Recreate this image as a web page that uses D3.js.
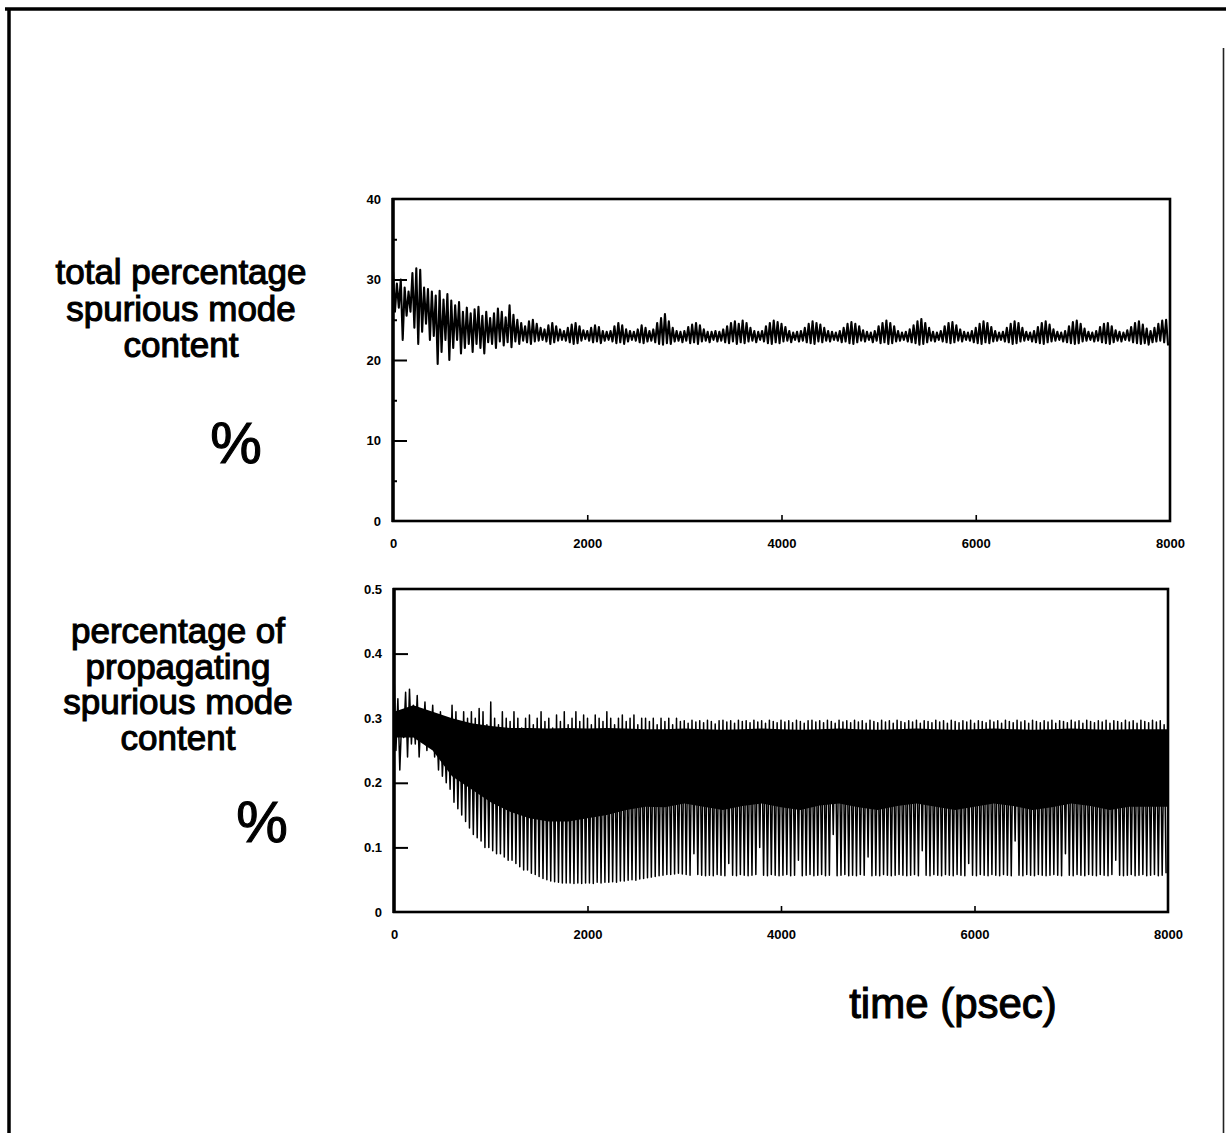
<!DOCTYPE html>
<html>
<head>
<meta charset="utf-8">
<script src="https://cdn.jsdelivr.net/npm/d3@7"></script>
<style>
  body { margin: 0; background: #fff; }
  svg { display: block; }
</style>
</head>
<body>
<svg id="fig" width="1226" height="1133"></svg>
<script>
// ---- data ---------------------------------------------------------------
const timeTicks = [0, 2000, 4000, 6000, 8000];
const totalTicks = [0, 10, 20, 30, 40];
const totalMinorTicks = [5, 15, 25, 35];
const propTicks = [0, 0.1, 0.2, 0.3, 0.4, 0.5];

// time (psec) between successive oscillation cycles of the traces
const cyclePeriod = 40;

// total spurious mode content (%): peak and trough of each cycle
const totalPeak = [
  31.0,29.5,30.0,29.0,28.5, 30.8,31.4,31.2,29.0,28.8, 28.5,28.0,28.6,27.5,28.2, 27.4,26.8,27.2,26.0,26.5,
  25.8,26.3,26.6,25.5,26.0, 25.2,25.8,26.4,26.0,25.3, 26.8,25.6,25.0,24.6,24.2, 24.8,25.0,24.5,24.0,23.8,
  24.3,24.6,24.2,23.8,23.6, 24.0,24.4,24.6,24.2,23.7, 23.6,24.0,24.3,24.1,23.6, 23.5,23.6,24.2,24.6,24.3,
  23.8,23.6,23.5,23.8,24.3, 24.0,23.6,23.8,24.6,25.2, 25.7,24.8,24.0,23.6,23.5, 23.6,24.1,24.4,24.6,24.3,
  23.8,23.5,23.5,23.6,23.5, 23.8,24.2,24.6,24.8,24.5, 24.9,24.6,24.0,23.6,23.5, 23.6,24.2,24.6,24.9,24.7,
  24.5,24.1,23.6,23.4,23.5, 23.6,24.0,24.5,24.8,24.6, 24.4,24.0,23.6,23.5,23.4, 23.6,24.0,24.5,24.7,24.5,
  24.2,23.7,23.5,23.4,23.6, 24.2,24.6,24.9,24.6,24.2, 23.6,23.4,23.5,23.8,24.3, 24.8,25.1,24.6,24.0,23.5,
  23.4,23.6,24.2,24.6,24.7, 24.3,23.8,23.5,23.4,23.6, 24.0,24.5,24.8,24.6,24.1, 23.6,23.4,23.5,24.0,24.5,
  24.8,24.6,24.0,23.5,23.4, 23.6,24.1,24.6,24.8,24.4, 23.8,23.5,23.4,23.6,24.2, 24.7,24.9,24.5,23.9,23.5,
  23.4,23.6,24.1,24.5,24.6, 24.2,23.7,23.5,23.4,23.7, 24.1,24.6,24.8,24.4,23.9, 23.6,24.0,24.5,24.9,25.0
];
const totalTrough = [
  26.0,26.5,22.5,25.5,26.0, 24.0,22.0,23.5,24.5,22.5, 23.0,19.5,21.0,22.5,20.0, 21.5,22.5,20.8,21.5,22.0,
  21.0,22.0,21.5,20.8,22.2, 22.0,21.5,22.3,21.8,22.2, 21.6,22.3,22.0,22.4,22.2, 22.0,22.3,22.4,22.5,22.3,
  22.0,22.2,22.4,22.5,22.4, 22.2,22.0,22.1,22.4,22.6, 22.4,22.2,22.3,22.1,22.4, 22.5,22.3,22.1,22.2,22.0,
  22.3,22.5,22.4,22.2,22.1, 22.3,22.4,22.2,22.0,21.9, 22.1,22.0,22.3,22.4,22.2, 22.4,22.1,22.2,22.0,22.3,
  22.4,22.2,22.5,22.3,22.4, 22.2,22.1,22.3,22.0,22.2, 22.1,22.3,22.4,22.2,22.5, 22.3,22.1,22.0,22.2,22.1,
  22.3,22.4,22.2,22.5,22.3, 22.4,22.2,22.1,22.0,22.3, 22.2,22.4,22.3,22.5,22.4, 22.2,22.3,22.1,22.0,22.2,
  22.4,22.3,22.5,22.2,22.4, 22.1,22.2,22.0,22.1,22.3, 22.4,22.5,22.3,22.2,22.1, 21.9,22.0,22.2,22.4,22.3,
  22.5,22.3,22.2,22.1,22.2, 22.4,22.3,22.5,22.4,22.2, 22.1,22.0,22.2,22.1,22.3, 22.4,22.5,22.3,22.2,22.0,
  22.1,22.3,22.4,22.5,22.3, 22.2,22.1,22.0,22.2,22.3, 22.4,22.5,22.3,22.2,22.1, 22.0,22.1,22.3,22.4,22.5,
  22.3,22.4,22.2,22.1,22.0, 22.2,22.4,22.3,22.5,22.4, 22.2,22.1,22.0,22.1,21.9, 22.2,22.3,22.4,22.2,21.8
];

// propagating spurious mode content (%): peak and trough of each cycle
const propPeak = [
  0.37,0.33,0.30,0.34,0.345, 0.32,0.335,0.31,0.325,0.31, 0.32,0.30,0.31,0.28,0.29, 0.32,0.31,0.29,0.31,0.30,
  0.31,0.30,0.315,0.31,0.29, 0.325,0.30,0.29,0.31,0.30, 0.295,0.31,0.30,0.285,0.30, 0.305,0.29,0.30,0.31,0.295,
  0.30,0.285,0.305,0.295,0.31, 0.29,0.30,0.31,0.295,0.305, 0.30,0.29,0.305,0.30,0.295, 0.31,0.30,0.29,0.30,0.305,
  0.295,0.30,0.305,0.29,0.30, 0.30,0.295,0.30,0.29,0.30, 0.295,0.30,0.29,0.30,0.295, 0.296,0.292,0.297,0.294,0.296,
  0.293,0.297,0.295,0.291,0.296, 0.297,0.294,0.296,0.292,0.297, 0.295,0.296,0.293,0.297,0.294, 0.296,0.292,0.297,0.295,0.293,
  0.297,0.294,0.296,0.293,0.297, 0.295,0.292,0.296,0.297,0.294, 0.296,0.293,0.297,0.295,0.292, 0.297,0.294,0.296,0.293,0.297,
  0.294,0.296,0.292,0.297,0.295, 0.293,0.297,0.294,0.296,0.292, 0.297,0.295,0.293,0.296,0.294, 0.297,0.292,0.296,0.295,0.293,
  0.297,0.294,0.296,0.292,0.297, 0.295,0.293,0.296,0.294,0.297, 0.292,0.296,0.295,0.293,0.297, 0.294,0.296,0.292,0.297,0.295,
  0.293,0.297,0.294,0.296,0.292, 0.297,0.295,0.293,0.296,0.294, 0.297,0.292,0.296,0.295,0.293, 0.297,0.294,0.296,0.292,0.297,
  0.295,0.293,0.296,0.294,0.297, 0.292,0.296,0.295,0.293,0.297, 0.294,0.296,0.292,0.297,0.295, 0.293,0.297,0.294,0.296,0.290
];
const propTrough = [
  0.25,0.22,0.27,0.24,0.26, 0.26,0.24,0.27,0.25,0.26, 0.24,0.22,0.21,0.20,0.19, 0.17,0.16,0.15,0.14,0.13,
  0.12,0.115,0.11,0.10,0.10, 0.095,0.09,0.09,0.085,0.08, 0.08,0.075,0.07,0.065,0.065, 0.06,0.058,0.055,0.052,0.05,
  0.048,0.047,0.046,0.045,0.045, 0.045,0.044,0.045,0.044,0.045, 0.045,0.044,0.046,0.045,0.046, 0.046,0.047,0.046,0.048,0.048,
  0.049,0.05,0.049,0.051,0.052, 0.053,0.054,0.055,0.056,0.057, 0.058,0.058,0.059,0.06,0.059, 0.058,0.057,0.09,0.058,0.057,
  0.056,0.057,0.056,0.058,0.057, 0.056,0.075,0.057,0.056,0.058, 0.057,0.056,0.057,0.058,0.10, 0.057,0.056,0.058,0.057,0.056,
  0.057,0.058,0.056,0.057,0.08, 0.056,0.057,0.058,0.056,0.057, 0.058,0.056,0.057,0.12,0.056, 0.057,0.058,0.056,0.057,0.056,
  0.058,0.057,0.085,0.056,0.057, 0.056,0.058,0.057,0.056,0.057, 0.058,0.057,0.056,0.057,0.058, 0.056,0.095,0.057,0.056,0.058,
  0.057,0.056,0.058,0.057,0.056, 0.058,0.057,0.056,0.075,0.057, 0.056,0.058,0.057,0.056,0.058, 0.057,0.056,0.058,0.057,0.056,
  0.11,0.057,0.056,0.058,0.057, 0.056,0.058,0.057,0.056,0.057, 0.058,0.057,0.056,0.09,0.057, 0.056,0.058,0.057,0.056,0.058,
  0.057,0.056,0.058,0.057,0.056, 0.058,0.08,0.057,0.056,0.057, 0.058,0.056,0.057,0.058,0.056, 0.057,0.058,0.056,0.057,0.060
];

// dense core of the propagating trace (where the fast ripple fills in solid)
const bandTime = d3.range(0, 8001, 200);
const propBandTop = [
  0.31,0.32,0.31,0.30,0.292,0.288,0.285,0.285,0.284,0.285,0.284,0.285,0.284,0.283,0.283,0.284,0.283,0.282,0.283,0.284,
  0.283,0.282,0.283,0.284,0.283,0.282,0.283,0.284,0.283,0.282,0.283,0.284,0.283,0.282,0.283,0.284,0.283,0.282,0.283,0.283,0.283
];
const propBandBottom = [
  0.27,0.27,0.25,0.21,0.19,0.17,0.155,0.145,0.14,0.14,0.145,0.15,0.158,0.163,0.162,0.168,0.163,0.158,0.164,0.168,
  0.162,0.158,0.165,0.168,0.162,0.158,0.164,0.168,0.163,0.158,0.163,0.168,0.164,0.158,0.162,0.168,0.164,0.158,0.163,0.163,0.163
];

// ---- drawing ------------------------------------------------------------
const svg = d3.select("#fig");
const FONT = "'Liberation Sans', Arial, Helvetica, sans-serif";

// outer frame
svg.append("line").attr("x1", 5).attr("x2", 1226).attr("y1", 9).attr("y2", 9)
  .attr("stroke", "#000").attr("stroke-width", 3.5);
svg.append("line").attr("x1", 9).attr("x2", 9).attr("y1", 8).attr("y2", 1133)
  .attr("stroke", "#000").attr("stroke-width", 3.5);
svg.append("line").attr("x1", 1223.5).attr("x2", 1223.5).attr("y1", 48).attr("y2", 1133)
  .attr("stroke", "#222").attr("stroke-width", 1.6);

function tracePoints(peaks, troughs) {
  const n = Math.min(peaks.length, troughs.length);
  const pts = [];
  for (let i = 0; i < n; i++) {
    pts.push([i * cyclePeriod, peaks[i]]);
    pts.push([i * cyclePeriod + cyclePeriod / 2, troughs[i]]);
  }
  return pts;
}

function panel(opts) {
  const { left, right, top, bottom, yDomain, yTicks, yMinor, yFormat, peaks, troughs, band } = opts;
  const x = d3.scaleLinear().domain([0, 8000]).range([left, right]);
  const y = d3.scaleLinear().domain(yDomain).range([bottom, top]);
  const g = svg.append("g");

  if (band) {
    const area = d3.area()
      .x((d, i) => x(band.time[i]))
      .y0((d, i) => y(band.bottom[i]))
      .y1((d, i) => y(band.top[i]));
    g.append("path").datum(band.time).attr("d", area).attr("fill", "#000");
  }

  const line = d3.line().x(d => x(d[0])).y(d => y(d[1]));
  g.append("path").datum(tracePoints(peaks, troughs))
    .attr("d", line).attr("fill", "none").attr("stroke", "#000")
    .attr("stroke-width", opts.traceWidth).attr("stroke-linejoin", "round");

  // y axis with inward ticks
  const yAxis = d3.axisLeft(y).tickValues(yTicks).tickSize(-14).tickPadding(12).tickFormat(yFormat);
  const ya = g.append("g").attr("transform", `translate(${left},0)`).call(yAxis);
  ya.select(".domain").remove();
  ya.selectAll(".tick line").attr("stroke", "#000").attr("stroke-width", 2)
    .filter(d => d === yDomain[0] || d === yDomain[1]).remove();
  ya.selectAll("text").attr("font-family", FONT).attr("font-weight", "bold")
    .attr("font-size", 13).attr("fill", "#000");

  if (yMinor) {
    const ym = g.append("g").attr("transform", `translate(${left},0)`)
      .call(d3.axisLeft(y).tickValues(yMinor).tickSize(-4).tickFormat(""));
    ym.select(".domain").remove();
    ym.selectAll(".tick line").attr("stroke", "#000").attr("stroke-width", 2);
  }

  // x axis with short upward ticks
  const xAxis = d3.axisBottom(x).tickValues(timeTicks).tickSize(-6).tickPadding(18).tickFormat(d3.format("d"));
  const xa = g.append("g").attr("transform", `translate(0,${bottom})`).call(xAxis);
  xa.select(".domain").remove();
  xa.selectAll(".tick line").attr("stroke", "#000").attr("stroke-width", 1.6)
    .filter(d => d === 0 || d === 8000).remove();
  xa.selectAll("text").attr("font-family", FONT).attr("font-weight", "bold")
    .attr("font-size", 13).attr("fill", "#000");

  // plot box
  g.append("rect").attr("x", left).attr("y", top)
    .attr("width", right - left).attr("height", bottom - top)
    .attr("fill", "none").attr("stroke", "#000").attr("stroke-width", 2.6);
  g.append("line").attr("x1", left).attr("x2", left).attr("y1", top - 1).attr("y2", bottom + 1)
    .attr("stroke", "#000").attr("stroke-width", 3.4);
}

panel({
  left: 393, right: 1170, top: 199, bottom: 521,
  yDomain: [0, 40], yTicks: totalTicks, yMinor: totalMinorTicks,
  yFormat: d3.format("d"),
  peaks: totalPeak, troughs: totalTrough, traceWidth: 2.1
});

panel({
  left: 394, right: 1168, top: 589, bottom: 912,
  yDomain: [0, 0.5], yTicks: propTicks, yMinor: null,
  yFormat: d => d === 0 ? "0" : d3.format(".1f")(d),
  peaks: propPeak, troughs: propTrough, traceWidth: 1.5,
  band: { time: bandTime, top: propBandTop, bottom: propBandBottom }
});

// side labels
function label(lines, cx, firstBaseline, step, size) {
  const t = svg.append("text").attr("font-family", FONT).attr("font-size", size)
    .attr("text-anchor", "middle").attr("fill", "#000")
    .attr("stroke", "#000").attr("stroke-width", 1.1);
  lines.forEach((s, i) => {
    t.append("tspan").attr("x", cx).attr("y", firstBaseline + i * step).text(s);
  });
}

label(["total percentage", "spurious mode", "content"], 181, 284, 36.5, 35);
label(["%"], 236, 463, 0, 58);
label(["percentage of", "propagating", "spurious mode", "content"], 178, 643, 35.5, 35);
label(["%"], 262, 842, 0, 58);
label(["time (psec)"], 953, 1018, 0, 42);
</script>
</body>
</html>
